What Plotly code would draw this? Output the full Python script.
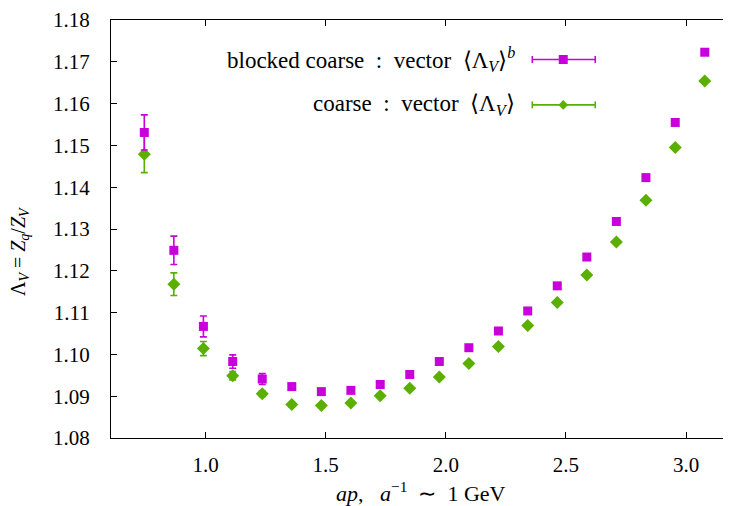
import plotly.graph_objects as go

ap = [0.745, 0.868, 0.991, 1.113, 1.236, 1.359, 1.482, 1.605, 1.727, 1.850,
      1.973, 2.096, 2.219, 2.341, 2.464, 2.587, 2.710, 2.833, 2.955, 3.078]

blocked_val = [1.1531, 1.1249, 1.1067, 1.0983, 1.0941, 1.0923, 1.0911, 1.0914, 1.0928, 1.0952,
               1.0983, 1.1016, 1.1056, 1.1104, 1.1164, 1.1233, 1.1318, 1.1423, 1.1555, 1.1723]
blocked_err = [0.0042, 0.0034, 0.0025, 0.0016, 0.0013, 0.0004, 0.0003, 0.0003, 0.0003, 0.0003,
               0.0003, 0.0003, 0.0003, 0.0003, 0.0003, 0.0003, 0.0003, 0.0003, 0.0003, 0.0003]

coarse_val = [1.1479, 1.1168, 1.1014, 1.0949, 1.0906, 1.0880, 1.0878, 1.0884, 1.0901, 1.0919,
              1.0946, 1.0978, 1.1019, 1.1069, 1.1124, 1.1190, 1.1269, 1.1369, 1.1495, 1.1654]
coarse_err = [0.0044, 0.0027, 0.0017, 0.0010, 0.0007, 0.0005, 0.0005, 0.0004, 0.0003, 0.0003,
              0.0003, 0.0003, 0.0003, 0.0003, 0.0003, 0.0003, 0.0003, 0.0003, 0.0003, 0.0003]

x_ticks = [1.0, 1.5, 2.0, 2.5, 3.0]
y_ticks = [1.08, 1.09, 1.10, 1.11, 1.12, 1.13, 1.14, 1.15, 1.16, 1.17, 1.18]

SP = "&nbsp;"
label_blocked = f"blocked coarse{SP*2}:{SP*2}vector{SP*2}⟨Λ<sub><i>V</i></sub>⟩<sup><i>b</i></sup>"
label_coarse = f"coarse{SP*2}:{SP*2}vector{SP*2}⟨Λ<sub><i>V</i></sub>⟩"
x_title = f"<i>ap</i>,{SP*3}<i>a</i><sup>−1</sup>{SP*2}∼{SP*2}1{SP}GeV"
y_title = f"Λ<sub><i>V</i></sub>{SP}={SP}<i>Z<sub>q</sub></i>/<i>Z<sub>V</sub></i>"

MAG = "#c800dc"
GRN = "#5aaf00"
FONT = "Liberation Serif"
FS = 21

fig = go.Figure()
fig.add_trace(go.Scatter(
    x=ap, y=coarse_val, mode="markers", name="coarse",
    marker=dict(symbol="diamond", size=10, color=GRN),
    error_y=dict(type="data", array=coarse_err, color=GRN, thickness=1.6, width=3.5),
    showlegend=False))
fig.add_trace(go.Scatter(
    x=ap, y=blocked_val, mode="markers", name="blocked coarse",
    marker=dict(symbol="square", size=9, color=MAG),
    error_y=dict(type="data", array=blocked_err, color=MAG, thickness=1.6, width=3.5),
    showlegend=False))

# manual gnuplot-style key
W, H = 620.0, 420.0
def legend_row(yp, color, text, symbol):
    x0, x1, xm = 0.6806, 0.7823, 0.7306
    cap = 3.5 / H
    fig.add_shape(type="line", xref="paper", yref="paper", x0=x0, x1=x1, y0=yp, y1=yp,
                  line=dict(color=color, width=1.6))
    for xe in (x0, x1):
        fig.add_shape(type="line", xref="paper", yref="paper", x0=xe, x1=xe,
                      y0=yp - cap, y1=yp + cap, line=dict(color=color, width=1.6))
    if symbol == "square":
        hx, hy = 4.5 / W, 4.5 / H
        fig.add_shape(type="rect", xref="paper", yref="paper", x0=xm - hx, x1=xm + hx,
                      y0=yp - hy, y1=yp + hy, fillcolor=color, line=dict(width=0))
    else:
        hx, hy = 4.8 / W, 4.8 / H
        path = (f"M {xm - hx},{yp} L {xm},{yp + hy} L {xm + hx},{yp} L {xm},{yp - hy} Z")
        fig.add_shape(type="path", xref="paper", yref="paper", path=path,
                      fillcolor=color, line=dict(width=0))
    fig.add_annotation(xref="paper", yref="paper", x=0.6565, y=yp, text=text,
                       showarrow=False, xanchor="right", yanchor="middle",
                       font=dict(family=FONT, size=23, color="black"))

legend_row(0.9055, MAG, label_blocked, "square")
legend_row(0.7969, GRN, label_coarse, "diamond")

# axis titles as annotations
fig.add_annotation(xref="paper", yref="paper", x=0.5, y=-0.1286, text=x_title,
                   showarrow=False, xanchor="center", yanchor="middle",
                   font=dict(family=FONT, size=22, color="black"))
fig.add_annotation(xref="paper", yref="paper", x=-0.1468, y=0.445, text=y_title,
                   showarrow=False, xanchor="center", yanchor="middle", textangle=-90,
                   font=dict(family=FONT, size=20, color="black"))

axis_common = dict(showgrid=False, zeroline=False, showline=True, linecolor="black",
                   linewidth=1, mirror="allticks", ticks="inside", ticklen=6,
                   tickcolor="black", tickwidth=1, ticklabeloverflow="allow",
                   tickfont=dict(family=FONT, size=FS, color="black"))

fig.update_xaxes(range=[0.6064, 3.183], tickvals=x_ticks,
                 ticktext=[f"{v:.1f}" for v in x_ticks], ticklabelstandoff=8,
                 **axis_common)
fig.update_yaxes(range=[1.08, 1.18001], tickvals=y_ticks,
                 ticktext=[f"{v:.2f}" for v in y_ticks], ticklabelstandoff=16,
                 **axis_common)

# page body has an 8px default margin; compensate so the frame lands at the reference place
fig.update_layout(width=723, height=498, margin=dict(l=103, r=0, t=10, b=68),
                  plot_bgcolor="white", paper_bgcolor="white",
                  font=dict(family=FONT, size=FS, color="black"))

fig.write_html("out.html")
